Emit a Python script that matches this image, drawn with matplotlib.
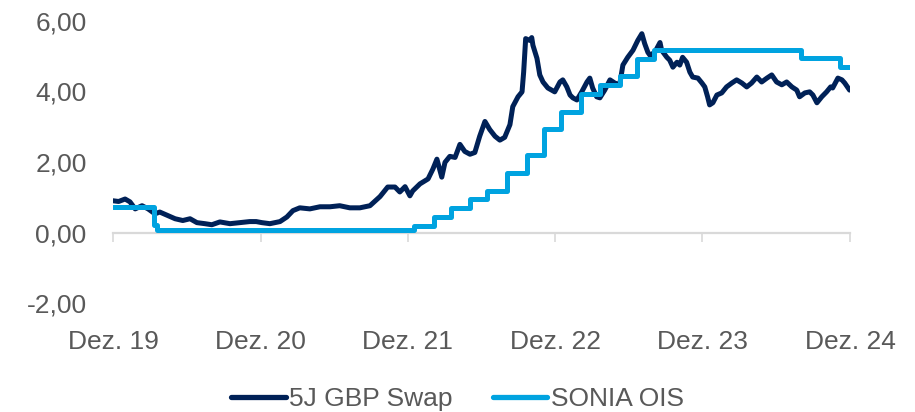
import matplotlib
matplotlib.use("Agg")
import matplotlib.pyplot as plt
import pandas as pd

plt.rcParams['font.family'] = ['Liberation Sans', 'DejaVu Sans']

# 5J GBP Swap
swap_dates = [
    "2019-12-01", "2019-12-15", "2019-12-31", "2020-01-12", "2020-01-25", "2020-02-11", "2020-02-26",
    "2020-03-14", "2020-03-26", "2020-04-15", "2020-05-03", "2020-05-22", "2020-06-09", "2020-06-26",
    "2020-07-16", "2020-08-02", "2020-08-22", "2020-09-16", "2020-10-11", "2020-11-04", "2020-11-20",
    "2020-12-04", "2020-12-24", "2021-01-18", "2021-02-04", "2021-02-19", "2021-03-08", "2021-04-02",
    "2021-04-27", "2021-05-22", "2021-06-15", "2021-07-10", "2021-08-04", "2021-08-29", "2021-09-23",
    "2021-10-12", "2021-10-30", "2021-11-11", "2021-11-24", "2021-12-06", "2021-12-13", "2021-12-31",
    "2022-01-20", "2022-02-01", "2022-02-11", "2022-02-23", "2022-03-03", "2022-03-15", "2022-03-28",
    "2022-04-09", "2022-04-21", "2022-05-04", "2022-05-16", "2022-05-28", "2022-06-10", "2022-06-22",
    "2022-07-05", "2022-07-17", "2022-07-29", "2022-08-11", "2022-08-18", "2022-08-31", "2022-09-10",
    "2022-09-14", "2022-09-19", "2022-09-29", "2022-10-04", "2022-10-07", "2022-10-17", "2022-10-24",
    "2022-11-01", "2022-11-13", "2022-11-30", "2022-12-13", "2022-12-20", "2022-12-30", "2023-01-07",
    "2023-01-14", "2023-01-24", "2023-02-05", "2023-02-18", "2023-02-25", "2023-03-04", "2023-03-14",
    "2023-03-22", "2023-04-03", "2023-04-16", "2023-04-28", "2023-05-10", "2023-05-18", "2023-05-30",
    "2023-06-12", "2023-06-24", "2023-07-04", "2023-07-11", "2023-07-19", "2023-07-24", "2023-08-05",
    "2023-08-18", "2023-08-22", "2023-09-04", "2023-09-11", "2023-09-19", "2023-09-29", "2023-10-06",
    "2023-10-13", "2023-10-23", "2023-10-31", "2023-11-07", "2023-11-20", "2023-11-30", "2023-12-07",
    "2023-12-14", "2023-12-19", "2023-12-27", "2024-01-06", "2024-01-18", "2024-01-30", "2024-02-12",
    "2024-02-24", "2024-03-08", "2024-03-20", "2024-04-01", "2024-04-14", "2024-04-26", "2024-05-09",
    "2024-05-21", "2024-06-02", "2024-06-15", "2024-06-27", "2024-07-10", "2024-07-22", "2024-07-29",
    "2024-08-11", "2024-08-23", "2024-08-31", "2024-09-10", "2024-09-22", "2024-10-04", "2024-10-14",
    "2024-10-19", "2024-11-01", "2024-11-11", "2024-11-18", "2024-11-30",
]
swap_values = [
    0.90, 0.88, 0.95, 0.87, 0.67, 0.76, 0.67,
    0.53, 0.58, 0.48, 0.39, 0.34, 0.39, 0.28,
    0.25, 0.22, 0.30, 0.25, 0.28, 0.31, 0.31,
    0.28, 0.25, 0.31, 0.44, 0.62, 0.70, 0.67,
    0.73, 0.73, 0.76, 0.70, 0.70, 0.76, 1.02,
    1.29, 1.29, 1.15, 1.30, 1.04, 1.18, 1.38,
    1.52, 1.80, 2.08, 1.57, 1.99, 2.16, 2.13,
    2.50, 2.30, 2.22, 2.27, 2.73, 3.15, 2.92,
    2.73, 2.62, 2.70, 3.06, 3.57, 3.85, 3.99,
    4.55, 5.50, 5.45, 5.53, 5.31, 4.94, 4.47,
    4.27, 4.10, 3.99, 4.27, 4.33, 4.13, 3.90,
    3.82, 3.76, 3.99, 4.27, 4.38, 4.10, 3.85,
    3.82, 4.04, 4.33, 4.24, 4.19, 4.75, 4.97,
    5.17, 5.45, 5.64, 5.36, 5.11, 5.03, 5.11,
    5.39, 5.17, 4.97, 4.89, 4.69, 4.83, 4.75,
    4.97, 4.83, 4.55, 4.41, 4.38, 4.24, 4.13,
    3.85, 3.62, 3.68, 3.90, 3.96, 4.13, 4.24,
    4.33, 4.24, 4.13, 4.24, 4.41, 4.27, 4.38,
    4.47, 4.27, 4.19, 4.27, 4.13, 4.04, 3.85,
    3.96, 3.99, 3.90, 3.68, 3.85, 3.99, 4.13,
    4.10, 4.38, 4.33, 4.24, 4.04,
]

# SONIA OIS (step changes)
ois_dates = [
    "2019-12-01", "2020-03-11", "2020-03-19", "2021-12-16", "2022-02-03", "2022-03-17",
    "2022-05-05", "2022-06-16", "2022-08-04", "2022-09-22", "2022-11-03", "2022-12-15",
    "2023-02-02", "2023-03-23", "2023-05-11", "2023-06-22", "2023-08-03", "2024-08-01",
    "2024-11-07", "2024-11-30",
]
ois_values = [
    0.71, 0.21, 0.06, 0.19, 0.44, 0.69,
    0.94, 1.19, 1.69, 2.19, 2.93, 3.43,
    3.93, 4.18, 4.43, 4.93, 5.19, 4.95,
    4.70, 4.70,
]

tick_dates = ["2019-12-01", "2020-12-01", "2021-12-01", "2022-12-01", "2023-12-01", "2024-12-01"]
tick_labels = ["Dez. 19", "Dez. 20", "Dez. 21", "Dez. 22", "Dez. 23", "Dez. 24"]
y_ticks = [-2, 0, 2, 4, 6]
y_labels = ["-2,00", "0,00", "2,00", "4,00", "6,00"]

navy = "#002157"
light = "#00a3e0"
grey_txt = "#595959"

fig = plt.figure(figsize=(9.15, 4.12), dpi=100)
ax = fig.add_axes([113 / 915, 1 - 303 / 412, (850 - 113) / 915, (303 - 21) / 412])

sd = pd.to_datetime(swap_dates)
od = pd.to_datetime(ois_dates)
ax.plot(sd, swap_values, color=navy, lw=3.6, solid_joinstyle="round", solid_capstyle="round",
        label="5J GBP Swap", zorder=3)
ax.step(od, ois_values, where="post", color=light, lw=3.6, solid_joinstyle="round",
        solid_capstyle="round", label="SONIA OIS", zorder=4)

td = pd.to_datetime(tick_dates)
ax.set_xlim(td[0], td[-1])
ax.set_ylim(-2, 6)
ax.set_xticks(td)
ax.set_xticklabels(tick_labels)
ax.set_yticks(y_ticks)
ax.set_yticklabels(y_labels)

for s in ["top", "right", "left"]:
    ax.spines[s].set_visible(False)
ax.spines["bottom"].set_position(("data", 0))
ax.spines["bottom"].set_color("#d9d9d9")
ax.spines["bottom"].set_linewidth(1.6)
ax.spines["bottom"].set_zorder(1)

ax.tick_params(axis="x", direction="out", length=6.5, width=1.2, color="#d9d9d9",
               labelsize=19, labelcolor=grey_txt, pad=64)
ax.tick_params(axis="y", length=0, labelsize=19, labelcolor=grey_txt, pad=19)

leg = fig.legend(loc="center", bbox_to_anchor=(0.5, 1 - 399 / 412), ncol=2, frameon=False,
                 fontsize=19, handlelength=2.05, handletextpad=0.15, columnspacing=1.5,
                 labelcolor=grey_txt)
for line in leg.get_lines():
    line.set_linewidth(3.8)
    line.set_solid_capstyle("round")

fig.savefig("out.png", dpi=100)
